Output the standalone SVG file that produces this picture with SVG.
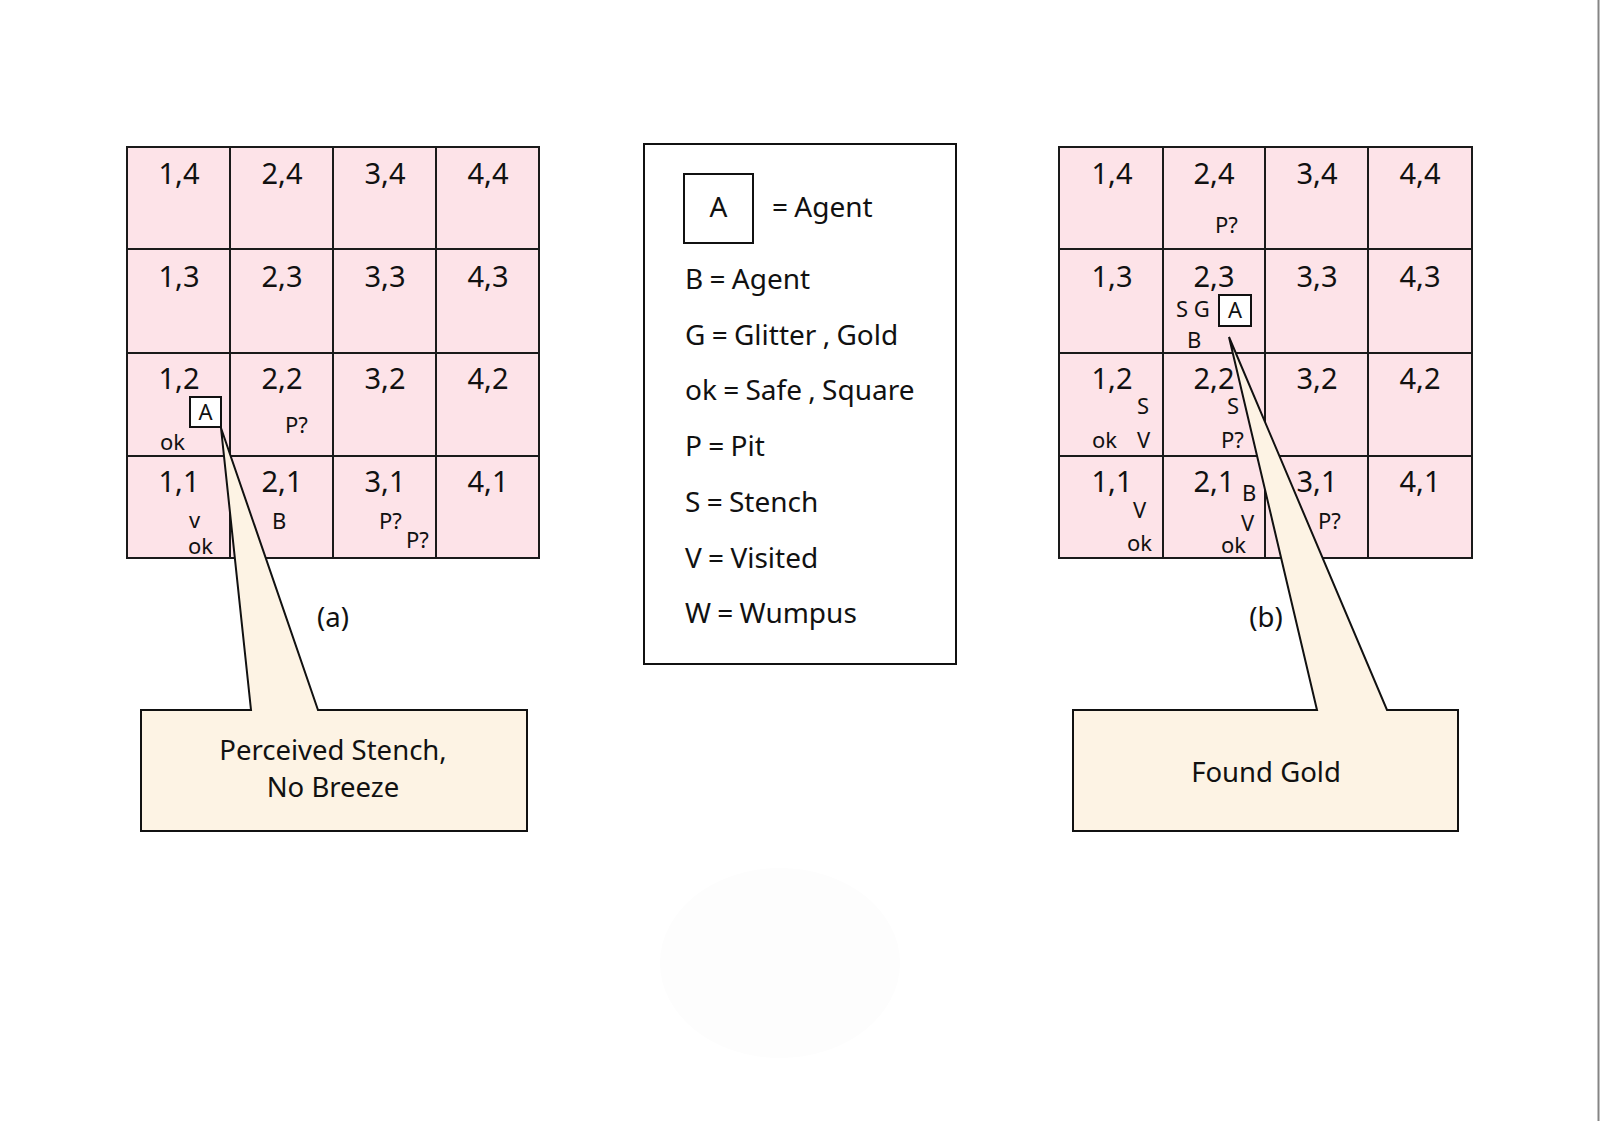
<svg xmlns="http://www.w3.org/2000/svg" width="1600" height="1121" viewBox="0 0 1600 1121">
<style>
.cell{fill:#fde3e8;stroke:#1a1a1a;stroke-width:2}
.lbl{font-family:"Noto Sans","Open Sans",sans-serif;font-size:29px;fill:#111;text-anchor:middle}
.sm{font-family:"Noto Sans","Open Sans",sans-serif;font-size:22px;fill:#111}
.agent{fill:#fff;stroke:#111;stroke-width:2}
.call{fill:#fdf3e4;stroke:#111;stroke-width:2;stroke-linejoin:miter}
.ct{font-family:"Noto Sans","Open Sans",sans-serif;font-size:27.5px;fill:#111;text-anchor:middle}
.leg{font-family:"Noto Sans","Open Sans",sans-serif;font-size:28px;fill:#111;word-spacing:-1px}
</style>
<rect width="1600" height="1121" fill="#fff"/>
<ellipse cx="780" cy="963" rx="120" ry="95" fill="#fdfdfd"/>
<line x1="1598.5" y1="0" x2="1598.5" y2="1121" stroke="#858585" stroke-width="2"/>

<g id="grid-a">
<rect class="cell" x="127" y="147" width="103" height="102"/>
<rect class="cell" x="230" y="147" width="103" height="102"/>
<rect class="cell" x="333" y="147" width="103" height="102"/>
<rect class="cell" x="436" y="147" width="103" height="102"/>
<rect class="cell" x="127" y="249" width="103" height="104"/>
<rect class="cell" x="230" y="249" width="103" height="104"/>
<rect class="cell" x="333" y="249" width="103" height="104"/>
<rect class="cell" x="436" y="249" width="103" height="104"/>
<rect class="cell" x="127" y="353" width="103" height="103"/>
<rect class="cell" x="230" y="353" width="103" height="103"/>
<rect class="cell" x="333" y="353" width="103" height="103"/>
<rect class="cell" x="436" y="353" width="103" height="103"/>
<rect class="cell" x="127" y="456" width="103" height="102"/>
<rect class="cell" x="230" y="456" width="103" height="102"/>
<rect class="cell" x="333" y="456" width="103" height="102"/>
<rect class="cell" x="436" y="456" width="103" height="102"/>
<text class="lbl" x="179" y="184">1,4</text>
<text class="lbl" x="282" y="184">2,4</text>
<text class="lbl" x="385" y="184">3,4</text>
<text class="lbl" x="488" y="184">4,4</text>
<text class="lbl" x="179" y="287">1,3</text>
<text class="lbl" x="282" y="287">2,3</text>
<text class="lbl" x="385" y="287">3,3</text>
<text class="lbl" x="488" y="287">4,3</text>
<text class="lbl" x="179" y="389">1,2</text>
<text class="lbl" x="282" y="389">2,2</text>
<text class="lbl" x="385" y="389">3,2</text>
<text class="lbl" x="488" y="389">4,2</text>
<text class="lbl" x="179" y="492">1,1</text>
<text class="lbl" x="282" y="492">2,1</text>
<text class="lbl" x="385" y="492">3,1</text>
<text class="lbl" x="488" y="492">4,1</text>
<rect class="agent" x="190" y="397" width="31" height="30"/>
<text class="sm" x="205.5" y="420" text-anchor="middle" font-size="19">A</text>
<text class="sm" x="160" y="450">ok</text>
<text class="sm" x="285" y="433">P?</text>
<text class="sm" x="189" y="528">v</text>
<text class="sm" x="188" y="554">ok</text>
<text class="sm" x="272" y="529">B</text>
<text class="sm" x="379" y="529">P?</text>
<text class="sm" x="406" y="548">P?</text>
</g>

<g id="grid-b">
<rect class="cell" x="1059" y="147" width="104" height="102"/>
<rect class="cell" x="1163" y="147" width="102" height="102"/>
<rect class="cell" x="1265" y="147" width="103" height="102"/>
<rect class="cell" x="1368" y="147" width="104" height="102"/>
<rect class="cell" x="1059" y="249" width="104" height="104"/>
<rect class="cell" x="1163" y="249" width="102" height="104"/>
<rect class="cell" x="1265" y="249" width="103" height="104"/>
<rect class="cell" x="1368" y="249" width="104" height="104"/>
<rect class="cell" x="1059" y="353" width="104" height="103"/>
<rect class="cell" x="1163" y="353" width="102" height="103"/>
<rect class="cell" x="1265" y="353" width="103" height="103"/>
<rect class="cell" x="1368" y="353" width="104" height="103"/>
<rect class="cell" x="1059" y="456" width="104" height="102"/>
<rect class="cell" x="1163" y="456" width="102" height="102"/>
<rect class="cell" x="1265" y="456" width="103" height="102"/>
<rect class="cell" x="1368" y="456" width="104" height="102"/>
<text class="lbl" x="1112" y="184">1,4</text>
<text class="lbl" x="1214" y="184">2,4</text>
<text class="lbl" x="1317" y="184">3,4</text>
<text class="lbl" x="1420" y="184">4,4</text>
<text class="lbl" x="1112" y="287">1,3</text>
<text class="lbl" x="1214" y="287">2,3</text>
<text class="lbl" x="1317" y="287">3,3</text>
<text class="lbl" x="1420" y="287">4,3</text>
<text class="lbl" x="1112" y="389">1,2</text>
<text class="lbl" x="1214" y="389">2,2</text>
<text class="lbl" x="1317" y="389">3,2</text>
<text class="lbl" x="1420" y="389">4,2</text>
<text class="lbl" x="1112" y="492">1,1</text>
<text class="lbl" x="1214" y="492">2,1</text>
<text class="lbl" x="1317" y="492">3,1</text>
<text class="lbl" x="1420" y="492">4,1</text>
<text class="sm" x="1215" y="233">P?</text>
<text class="sm" x="1176" y="317">S G</text>
<rect class="agent" x="1219" y="295" width="32" height="31"/>
<text class="sm" x="1235" y="318" text-anchor="middle" font-size="19">A</text>
<text class="sm" x="1187" y="348">B</text>
<text class="sm" x="1137" y="414">S</text>
<text class="sm" x="1092" y="448">ok</text>
<text class="sm" x="1137" y="448">V</text>
<text class="sm" x="1227" y="414">S</text>
<text class="sm" x="1221" y="448">P?</text>
<text class="sm" x="1133" y="518">V</text>
<text class="sm" x="1127" y="551">ok</text>
<text class="sm" x="1242" y="501">B</text>
<text class="sm" x="1241" y="531">V</text>
<text class="sm" x="1221" y="553">ok</text>
<text class="sm" x="1318" y="529">P?</text>
</g>

<g id="legend">
<rect x="644" y="144" width="312" height="520" fill="#fff" stroke="#111" stroke-width="2"/>
<rect x="684" y="174" width="69" height="69" fill="#fff" stroke="#111" stroke-width="2"/>
<text class="leg" x="718.5" y="217" text-anchor="middle">A</text>
<text class="leg" x="772" y="217">= Agent</text>
<text class="leg" x="685" y="289">B = Agent</text>
<text class="leg" x="685" y="345">G = Glitter , Gold</text>
<text class="leg" x="685" y="400">ok = Safe , Square</text>
<text class="leg" x="685" y="456">P = Pit</text>
<text class="leg" x="685" y="512">S = Stench</text>
<text class="leg" x="685" y="568">V = Visited</text>
<text class="leg" x="685" y="623">W = Wumpus</text>
</g>

<g id="connectors">
<path class="call" d="M141,710 L251,710 L221,428 L318,710 L527,710 L527,831 L141,831 Z"/>
<path class="call" d="M1073,710 L1317,710 L1229,337 L1387,710 L1458,710 L1458,831 L1073,831 Z"/>
</g>

<g id="callout-a">
<text class="ct" x="333" y="760">Perceived Stench,</text>
<text class="ct" x="333" y="797">No Breeze</text>
<text class="ct" x="333" y="627">(a)</text>
</g>
<g id="callout-b">
<text class="ct" x="1266" y="782">Found Gold</text>
<text class="ct" x="1266" y="627">(b)</text>
</g>
</svg>
